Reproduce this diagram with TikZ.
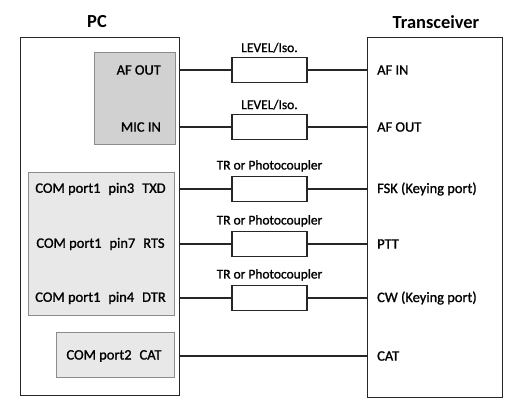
\documentclass[tikz,border=0pt]{standalone}
\usepackage{fontspec}
\setmainfont{Carlito}
\newfontfamily\heavyfont[FakeBold=1.2]{Carlito}
\usetikzlibrary{positioning}
\begin{document}
\begin{tikzpicture}[x=1bp,y=-1bp,
  outer/.style={draw=black!85, line width=1.3bp, inner sep=0, anchor=north west},
  grp/.style={draw=black!45, line width=0.9bp, inner sep=0, anchor=north west},
  part/.style={draw=black!85, fill=white, line width=1.3bp, minimum width=75bp, minimum height=25bp, inner sep=0},
  wire/.style={draw=black!85, line width=1.3bp},
  txt/.style={font=\heavyfont\fontsize{14.5}{16}\selectfont, inner sep=0},
  small/.style={font=\heavyfont\fontsize{13.5}{15}\selectfont, inner sep=0},
  title/.style={font=\bfseries\fontsize{18.5}{20}\selectfont, inner sep=0}]
\useasboundingbox (0,0) rectangle (531,407);
% main boxes
\node[outer, minimum width=159bp, minimum height=358bp] (pc) at (20,37) {};
\node[outer, minimum width=135bp, minimum height=360bp] (trx) at (367,37) {};
\node[title] (pct) at (97,22) {PC};
\node[title] (trxt) at (436,22) {Transceiver};
% inner groups
\node[grp, fill=black!18, minimum width=81bp, minimum height=92bp] (audio) at (94,52) {};
\node[grp, fill=black!9, minimum width=146bp, minimum height=143bp] (com1) at (28,172) {};
\node[grp, fill=black!9, minimum width=118bp, minimum height=45bp] (com2) at (56,332) {};
% PC side texts
\node[txt, anchor=east] (afo) at (161,70) {AF OUT};
\node[txt, anchor=east] (mic) at (161,127) {MIC IN};
\node[txt] (txd) at (100.5,189) {COM port1\hspace{0.55em}pin3\hspace{0.55em}TXD};
\node[txt] (rts) at (100.5,244) {COM port1\hspace{0.55em}pin7\hspace{0.55em}RTS};
\node[txt] (dtr) at (100.5,298) {COM port1\hspace{0.55em}pin4\hspace{0.55em}DTR};
\node[txt] (cat1) at (114,356) {COM port2\hspace{0.55em}CAT};
% transceiver texts
\node[txt, anchor=west] (afi) at (377,70) {AF IN};
\node[txt, anchor=west] (afo2) at (377,127) {AF OUT};
\node[txt, anchor=west] (fsk) at (377,189) {FSK (Keying port)};
\node[txt, anchor=west] (ptt) at (377,244) {PTT};
\node[txt, anchor=west] (cw) at (377,298) {CW (Keying port)};
\node[txt, anchor=west] (cat2) at (377,356) {CAT};
% interface parts
\node[part] (b1) at (269.5,70) {};
\node[part] (b2) at (269.5,127) {};
\node[part] (b3) at (269.5,189) {};
\node[part] (b4) at (269.5,244) {};
\node[part] (b5) at (269.5,298) {};
\node[small, above=4bp of b1] (l1) {LEVEL/Iso.};
\node[small, above=4bp of b2] (l2) {LEVEL/Iso.};
\node[small, above=4bp of b3] (l3) {TR or Photocoupler};
\node[small, above=4bp of b4] (l4) {TR or Photocoupler};
\node[small, above=4bp of b5] (l5) {TR or Photocoupler};
% wires
\foreach \b in {b1,b2,b3,b4,b5}{
  \draw[wire] (\b.west -| pc.east) -- (\b.west);
  \draw[wire] (\b.east) -- (\b.east -| trx.west);
}
\draw[wire] (cat2.west -| pc.east) -- (cat2.west -| trx.west);
\end{tikzpicture}
\end{document}
